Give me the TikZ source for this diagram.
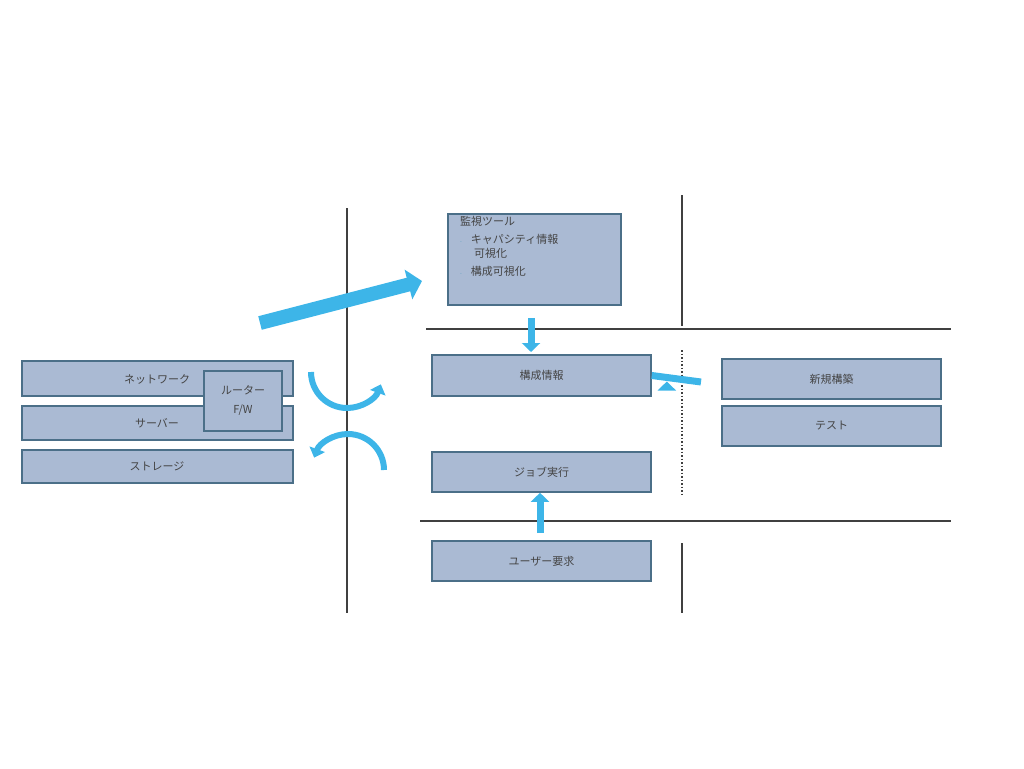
\documentclass[tikz,border=0pt]{standalone}
\usepackage{fontspec}
\setmainfont{Noto Sans CJK JP}
\usetikzlibrary{arrows.meta}
\definecolor{boxf}{HTML}{AABAD3}
\definecolor{boxd}{HTML}{4B6F88}
\definecolor{arr}{HTML}{3DB5E8}
\definecolor{txt}{HTML}{444444}
\begin{document}
\begin{tikzpicture}[x=1pt,y=-1pt,
  box/.style={draw=boxd,fill=boxf,line width=1.6pt,text=txt,font=\fontsize{11}{13}\selectfont},
  sep/.style={line width=1.5pt,draw=black!75},
  fat/.style={draw=arr,line width=#1,-{Triangle[length=10pt,width=20pt]}},
  arc/.style={draw=arr,line width=6pt,-{Triangle[length=9pt,width=16pt]}}]
\useasboundingbox (0,0) rectangle (1024,768);
% separators
\draw[sep] (347,208) -- (347,613);
\draw[sep] (682,195) -- (682,326);
\draw[line width=1.5pt,dotted,draw=black!75] (682,350) -- (682,494);
\draw[sep] (682,543) -- (682,613);
\draw[sep] (426,329) -- (951,329);
\draw[sep] (420,521) -- (951,521);
% boxes
\path[box] (22,361) rectangle (293,396); \node[text=txt,font=\fontsize{11}{13}\selectfont] (net) at (157,379) {ネットワーク};
\path[box] (22,406) rectangle (293,440); \node[text=txt,font=\fontsize{11}{13}\selectfont] (srv) at (157,423) {サーバー};
\path[box] (22,450) rectangle (293,483); \node[text=txt,font=\fontsize{11}{13}\selectfont] (sto) at (157,466) {ストレージ};
\node[box,minimum width=78pt,minimum height=60pt,align=center,inner sep=0pt] (rt) at (243,401) {ルーター\\[6pt]F/W};
\node[box,minimum width=173pt,minimum height=91pt,align=left,inner sep=0pt] (mon) at (534.5,259.5) {};
\node[anchor=north west,text=txt,font=\fontsize{11}{14}\selectfont,align=left,inner sep=0pt] (montxt) at (460,216) {監視ツール\\[4pt]
\textcolor{arr!60!gray}{\tiny -}\hspace{9pt}キャパシティ情報\\\hspace{14pt}可視化\\[4pt]
\textcolor{arr!60!gray}{\tiny -}\hspace{9pt}構成可視化};
\node[box,minimum width=219pt,minimum height=41pt] (kos) at (541.5,375.5) {構成情報};
\node[box,minimum width=219pt,minimum height=40pt] (job) at (541.5,472) {ジョブ実行};
\node[box,minimum width=219pt,minimum height=40pt] (usr) at (541.5,561) {ユーザー要求};
\node[box,minimum width=219pt,minimum height=40pt] (shn) at (831.5,379) {新規構築};
\node[box,minimum width=219pt,minimum height=40pt] (tst) at (831.5,426) {テスト};
% arrows
\coordinate (bigS) at (260,323);
\coordinate (bigE) at (422,281);
\draw[fat=14pt,-{Triangle[length=14pt,width=30pt]}] (bigS) -- (bigE);
\draw[fat=7pt,-{Triangle[length=9pt,width=18pt]}] (mon.south -| 531,0) ++(0,12) coordinate (d1) -- (531,352);
\draw[fat=7pt,-{Triangle[length=9pt,width=18pt]}] (540,533) -- (job.south -| 540,0);
\draw[fat=7pt,-{Triangle[length=9pt,width=18pt]}] (701,382) -- (kos.east) ++(15,6);
\draw[arc] (311,372) arc[start angle=180,end angle=340,radius=36,y radius=-36];
\draw[arc] (384,470) arc[start angle=0,end angle=160,radius=36,y radius=-36];
\end{tikzpicture}
\end{document}
